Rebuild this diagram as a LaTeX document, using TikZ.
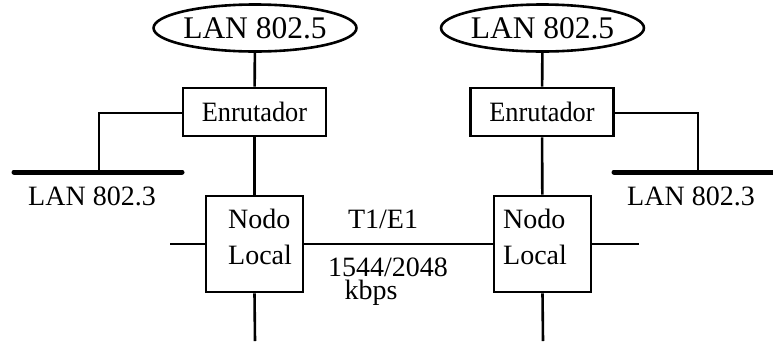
\documentclass[tikz,border=0pt]{standalone}
\usepackage{fontspec}
\setmainfont{Liberation Serif}
\usetikzlibrary{shapes.geometric}
\begin{document}
\begin{tikzpicture}[x=1pt,y=-1pt,
  wire/.style={line width=2.6pt},
  bus/.style={line width=5pt,line cap=round},
  lan/.style={ellipse,draw,line width=2.6pt,minimum width=195pt,minimum height=47pt,inner sep=0pt,font=\fontsize{31.5}{33}\selectfont},
  router/.style={rectangle,draw,line width=2.6pt,minimum width=143pt,minimum height=48pt,inner sep=0pt,font=\fontsize{28}{30}\selectfont},
  nodebox/.style={rectangle,draw,line width=2.6pt,minimum width=97pt,minimum height=96pt,inner sep=0pt},
  lbl/.style={inner sep=0pt,font=\fontsize{28}{30}\selectfont}]
\useasboundingbox (0,0) rectangle (773,341);
% left side
\node[lan] (lanA) at (255,28) {LAN 802.5};
\node[router] (rA) at (254.5,112) {\scalebox{0.94}[1]{Enrutador}};
\node[nodebox] (nA) at (254.5,244) {};
\node[lbl,anchor=base west] (nA1) at (228,228) {Nodo};
\node[lbl,anchor=base west] (nA2) at (228,264) {Local};
\coordinate (bA1) at (14,172);
\coordinate (bA2) at (182,172);
\coordinate (tA) at (99,172);
\coordinate (kA) at (99,113);
\draw[bus] (bA1) -- (bA2);
\node[lbl,anchor=base] (labA) at (92,205) {LAN 802.3};
\draw[wire] (lanA) -- (rA);
\draw[wire] (rA) -- (nA);
\draw[wire] (rA.west |- kA) -- (kA) -- (tA);
\coordinate (wA) at (170,244);
\coordinate (sA) at (255,341);
\draw[wire] (wA) -- (nA.west);
\draw[wire] (nA.south) -- (sA);
% right side
\node[lan] (lanB) at (542.5,28) {LAN 802.5};
\node[router] (rB) at (542,112) {\scalebox{0.94}[1]{Enrutador}};
\node[nodebox] (nB) at (542.5,244) {};
\node[lbl,anchor=base west] (nB1) at (503,228) {Nodo};
\node[lbl,anchor=base west] (nB2) at (503,264) {Local};
\coordinate (bB1) at (614,172);
\coordinate (bB2) at (773,172);
\coordinate (tB) at (698,172);
\coordinate (kB) at (698,113);
\draw[bus] (bB1) -- (bB2);
\node[lbl,anchor=base] (labB) at (691,205) {LAN 802.3};
\draw[wire] (lanB) -- (rB);
\draw[wire] (rB) -- (nB);
\draw[wire] (rB.east |- kB) -- (kB) -- (tB);
\coordinate (eB) at (639,244);
\coordinate (sB) at (543,341);
\draw[wire] (nB.east) -- (eB);
\draw[wire] (nB.south) -- (sB);
% link
\draw[wire] (nA.east) -- (nB.west);
\node[lbl,anchor=base] (t1) at (383,228) {T1/E1};
\node[lbl,anchor=base] (rate) at (388,276) {1544/2048};
\node[lbl,anchor=base] (kb) at (371,299) {kbps};
\end{tikzpicture}
\end{document}
